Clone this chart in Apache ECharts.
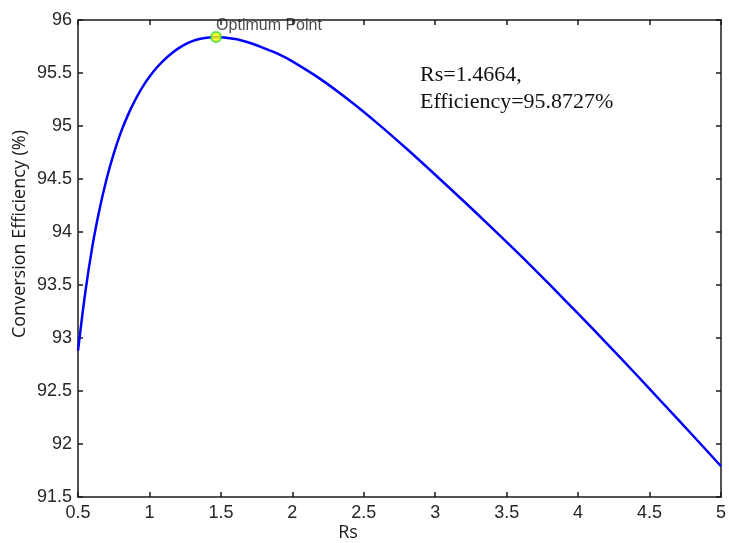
<!DOCTYPE html>
<html>
<head>
<meta charset="utf-8">
<script src="https://cdn.jsdelivr.net/npm/echarts@6/dist/echarts.min.js"></script>
<style>
  html, body { margin: 0; padding: 0; background: #fff; }
  #chart { width: 729px; height: 543px; }
</style>
</head>
<body>
<div id="chart"></div>
<script>
// Rs values and conversion efficiency (%)
let rsValues = [0.5, 0.55, 0.6, 0.65, 0.7, 0.75, 0.8, 0.85, 0.9, 0.95, 1.0, 1.05, 1.1, 1.15, 1.2, 1.25, 1.3, 1.35, 1.4, 1.4664, 1.6, 1.7, 1.8, 1.9, 2.0, 2.2, 2.4, 2.6, 2.8, 3.0, 3.2, 3.4, 3.6, 3.8, 4.0, 4.2, 4.4, 4.6, 4.8, 5.0]
let efficiency = [92.88, 93.42, 93.86, 94.21, 94.50, 94.74, 94.94, 95.105, 95.245, 95.365, 95.465, 95.55, 95.62, 95.68, 95.73, 95.77, 95.80, 95.82, 95.833, 95.84, 95.82, 95.785, 95.735, 95.68, 95.61, 95.44, 95.24, 95.02, 94.785, 94.54, 94.29, 94.035, 93.775, 93.505, 93.23, 92.95, 92.665, 92.375, 92.085, 91.79]
let optimum = [1.4664, 95.84]
let xTicks = { min: 0.5, max: 5, step: 0.5 }
let yTicks = { min: 91.5, max: 96, step: 0.5 }

let curve = rsValues.map((x, i) => [x, efficiency[i]])

let tickFont = { fontFamily: 'Liberation Sans, Arial, sans-serif', fontSize: 18, color: '#262626' }
let axisLine = { show: true, onZero: false, lineStyle: { color: '#1a1a1a', width: 1.5 } }
let axisTick = { show: true, inside: true, length: 5, lineStyle: { color: '#1a1a1a', width: 1.5 } }

let chart = echarts.init(document.getElementById('chart'))
chart.setOption({
  animation: false,
  grid: { left: 78, right: 6, top: 20, bottom: 46 },
  xAxis: [
    {
      type: 'value',
      position: 'bottom',
      min: xTicks.min,
      max: xTicks.max,
      interval: xTicks.step,
      axisLine: axisLine,
      axisTick: axisTick,
      splitLine: { show: false },
      axisLabel: Object.assign({ margin: 7 }, tickFont)
    },
    {
      type: 'value',
      position: 'top',
      min: xTicks.min,
      max: xTicks.max,
      interval: xTicks.step,
      axisLine: axisLine,
      axisTick: axisTick,
      splitLine: { show: false },
      axisLabel: { show: false }
    }
  ],
  yAxis: [
    {
      type: 'value',
      position: 'left',
      min: yTicks.min,
      max: yTicks.max,
      interval: yTicks.step,
      axisLine: axisLine,
      axisTick: axisTick,
      splitLine: { show: false },
      axisLabel: Object.assign({ margin: 6 }, tickFont)
    },
    {
      type: 'value',
      position: 'right',
      min: yTicks.min,
      max: yTicks.max,
      interval: yTicks.step,
      axisLine: axisLine,
      axisTick: axisTick,
      splitLine: { show: false },
      axisLabel: { show: false }
    }
  ],
  graphic: [
    {
      type: 'text',
      x: 20,
      y: 234,
      rotation: Math.PI / 2,
      style: {
        text: 'Conversion Efficiency (%)',
        fontFamily: 'Open Sans, sans-serif',
        fontSize: 18,
        fill: '#1a1a1a',
        textAlign: 'center',
        textVerticalAlign: 'middle'
      }
    },
    {
      type: 'text',
      x: 348,
      y: 533,
      style: {
        text: 'Rs',
        fontFamily: 'Open Sans, sans-serif',
        fontSize: 18,
        fill: '#1a1a1a',
        textAlign: 'center',
        textVerticalAlign: 'middle'
      }
    },
    {
      type: 'text',
      x: 420,
      y: 62,
      style: {
        text: 'Rs=1.4664,\nEfficiency=95.8727%',
        fontFamily: 'Liberation Serif, Times New Roman, serif',
        fontSize: 22,
        lineHeight: 27,
        fill: '#111'
      }
    }
  ],
  series: [
    {
      type: 'line',
      data: curve,
      smooth: 0.3,
      showSymbol: false,
      lineStyle: { color: '#0000ff', width: 2.5 },
      z: 2
    },
    {
      type: 'scatter',
      data: [optimum],
      symbolSize: 10,
      itemStyle: { color: '#ffff00', borderColor: '#33dd33', borderWidth: 2 },
      label: {
        show: true,
        formatter: 'Optimum Point',
        position: [6, -13],
        fontFamily: 'Liberation Sans, Arial, sans-serif',
        fontSize: 16,
        color: '#1a1a1a'
      },
      z: 3
    }
  ]
})

window.addEventListener('resize', () => {
  chart.resize()
})
</script>
</body>
</html>
